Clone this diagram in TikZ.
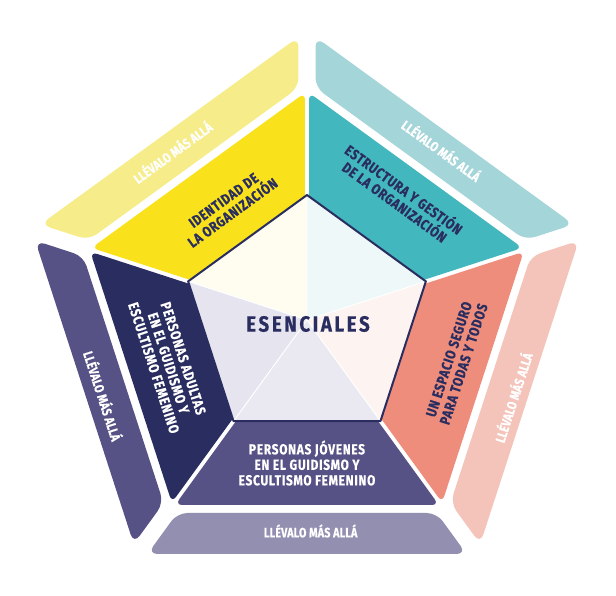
\documentclass[tikz,border=0pt]{standalone}
\usepackage{fontspec}
\usepackage{tikz}
\newfontfamily\dinfont{Fira Sans}[FakeStretch=0.82, LetterSpace=5, BoldFeatures={FakeBold=0.4}]
\newfontfamily\dinnarrow{Fira Sans}[FakeStretch=0.8, LetterSpace=1, BoldFeatures={FakeBold=0.3}]
\newfontfamily\dinwide{Fira Sans}[FakeStretch=0.85, LetterSpace=12, BoldFeatures={FakeBold=0.4}]

\definecolor{navy}{HTML}{2A2D5F}
\definecolor{yellowM}{HTML}{F9E21B}
\definecolor{yellowL}{HTML}{F6ED8A}
\definecolor{yellowT}{HTML}{FFFDF0}
\definecolor{tealM}{HTML}{42B7BD}
\definecolor{tealL}{HTML}{A4D5D9}
\definecolor{tealT}{HTML}{EFF8F8}
\definecolor{salmonM}{HTML}{EE8D7C}
\definecolor{salmonL}{HTML}{F4C4BA}
\definecolor{salmonT}{HTML}{FDF3F0}
\definecolor{purpleM}{HTML}{575286}
\definecolor{purpleL}{HTML}{938FB0}
\definecolor{purpleT}{HTML}{EAE9F1}
\definecolor{navyL}{HTML}{575286}
\definecolor{navyT}{HTML}{E5E4EF}

\begin{document}
\begin{tikzpicture}[x=1pt, y=1pt,
    midband/.style={rounded corners=7pt},
    outband/.style={rounded corners=10pt},
    midlabel/.style={align=center, font=\dinfont\bfseries\fontsize{14.5}{15.5}\selectfont},
    outlabel/.style={text=white, font=\dinnarrow\bfseries\fontsize{13.5}{15}\selectfont}]

    \useasboundingbox (-307,-276) rectangle (309,320);

    % Outer ring (Llevalo mas alla)
    \fill[outband, yellowL, rotate=216] (-129.7,-193) -- (129.7,-193) -- (159.5,-234) -- (-159.5,-234) -- cycle;
    \fill[outband, tealL, rotate=144] (-129.7,-193) -- (129.7,-193) -- (159.5,-234) -- (-159.5,-234) -- cycle;
    \fill[outband, salmonL, rotate=72] (-129.7,-193) -- (129.7,-193) -- (159.5,-234) -- (-159.5,-234) -- cycle;
    \fill[outband, purpleL] (-129.7,-193) -- (129.7,-193) -- (159.5,-234) -- (-159.5,-234) -- cycle;
    \fill[outband, navyL, rotate=288] (-129.7,-193) -- (129.7,-193) -- (159.5,-234) -- (-159.5,-234) -- cycle;

    % Middle ring
    \fill[midband, yellowM, rotate=216] (-48.4,-70) -- (48.4,-70) -- (131.9,-185) -- (-131.9,-185) -- cycle;
    \fill[midband, tealM, rotate=144] (-48.4,-70) -- (48.4,-70) -- (131.9,-185) -- (-131.9,-185) -- cycle;
    \fill[midband, salmonM, rotate=72] (-48.4,-70) -- (48.4,-70) -- (131.9,-185) -- (-131.9,-185) -- cycle;
    \fill[midband, purpleM] (-48.4,-70) -- (48.4,-70) -- (131.9,-185) -- (-131.9,-185) -- cycle;
    \fill[midband, navy, rotate=288] (-48.4,-70) -- (48.4,-70) -- (131.9,-185) -- (-131.9,-185) -- cycle;

    % Inner pentagon
    \coordinate (O) at (0,0);
    \coordinate (p1) at (90:125);
    \coordinate (p2) at (162:125);
    \coordinate (p3) at (234:125);
    \coordinate (p4) at (306:125);
    \coordinate (p5) at (18:125);
    \fill[yellowT] (O) -- (p1) -- (p2) -- cycle;
    \fill[tealT] (O) -- (p5) -- (p1) -- cycle;
    \fill[salmonT] (O) -- (p4) -- (p5) -- cycle;
    \fill[purpleT] (O) -- (p3) -- (p4) -- cycle;
    \fill[navyT] (O) -- (p2) -- (p3) -- cycle;
    \draw[white, line width=1pt] (O) -- (p1) (O) -- (p2) (O) -- (p3) (O) -- (p4) (O) -- (p5);
    \draw[navy, line width=2pt, line join=round] (p1) -- (p2) -- (p3) -- (p4) -- (p5) -- cycle;

    \node[font=\dinwide\bfseries\fontsize{22}{24}\selectfont, text=navy] (esenciales) at (1,-4) {ESENCIALES};

    % Labels of the middle ring
    \node[midlabel, text=navy, rotate=36] (identidad) at (124.8:138) {IDENTIDAD DE\\LA ORGANIZACIÓN};
    \node[midlabel, text=navy, rotate=-36] (estructura) at (53.4:156) {ESTRUCTURA Y GESTIÓN\\DE LA ORGANIZACIÓN};
    \node[midlabel, text=navy, rotate=72] (espacio) at (-15.6:155) {UN ESPACIO SEGURO\\PARA TODAS Y TODOS};
    \node[midlabel, text=white] (jovenes) at (-90:143) {PERSONAS JÓVENES\\EN EL GUIDISMO Y\\ESCULTISMO FEMENINO};
    \node[midlabel, text=white, rotate=-72] (adultas) at (197.3:145) {PERSONAS ADULTAS\\EN EL GUIDISMO Y\\ESCULTISMO FEMENINO};

    % Labels of the outer ring
    \node[outlabel, rotate=36] (masY) at (128.7:215.6) {LLÉVALO MÁS ALLÁ};
    \node[outlabel, rotate=-36] (masT) at (51.6:217) {LLÉVALO MÁS ALLÁ};
    \node[outlabel, rotate=72] (masS) at (-20.6:219.7) {LLÉVALO MÁS ALLÁ};
    \node[outlabel] (masP) at (-89:211) {LLÉVALO MÁS ALLÁ};
    \node[outlabel, rotate=-72] (masN) at (200.4:217.3) {LLÉVALO MÁS ALLÁ};
\end{tikzpicture}
\end{document}
